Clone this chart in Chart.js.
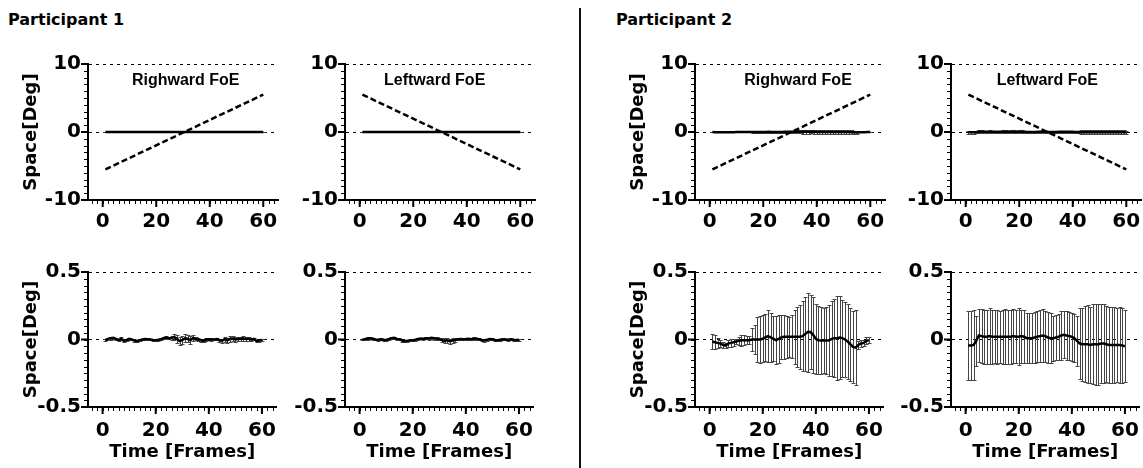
<!DOCTYPE html>
<html>
<head>
<meta charset="utf-8">
<script src="https://cdn.jsdelivr.net/npm/chart.js@4.4.1/dist/chart.umd.min.js"></script>
<style>
  html, body { margin: 0; padding: 0; background: #fff; overflow: hidden; }
  body { width: 1143px; height: 468px; position: relative; }
  .ptitle { position: absolute; font: bold 16px "DejaVu Sans"; line-height: 16px; color: #000; white-space: nowrap; }
  #divider { position: absolute; left: 579px; top: 8px; width: 2px; height: 460px; background: #111; }
  canvas { position: absolute; }
</style>
</head>
<body>
<div class="ptitle" style="left:8px;top:12px">Participant 1</div>
<div class="ptitle" style="left:616px;top:12px">Participant 2</div>
<div id="divider"></div>
<script>
const frames = [1,2,3,4,5,6,7,8,9,10,11,12,13,14,15,16,17,18,19,20,21,22,23,24,25,26,27,28,29,30,
  31,32,33,34,35,36,37,38,39,40,41,42,43,44,45,46,47,48,49,50,51,52,53,54,55,56,57,58,59,60];
const xTicks = [0, 20, 40, 60];
const yTicksDeg = [-10, 0, 10];
const yTicksSmall = [-0.5, 0, 0.5];

// FoE trajectory (dashed), first and last frame
const rampFrames = [1, 60];
const rightwardFoE = [-5.5, 5.5];
const leftwardFoE = [5.5, -5.5];

// participant 1, mean +- sd per frame
const p1RightMean = [-0.005,0.005,0.01,0.012,0.005,-0.005,0.005,-0.01,-0.005,0.005,0,-0.008,-0.012,-0.005,0,0.003,0.002,0,-0.003,-0.005,
  -0.002,0.003,0.01,0.015,0.01,0.012,0.018,0.005,-0.012,-0.005,0.008,0.005,-0.005,0.01,0.005,0,-0.005,-0.01,0,0.002,
  0,0,0.003,-0.005,-0.008,0.002,-0.006,0.005,0.008,0,0.003,0.005,0.008,0.004,0.006,-0.002,0.005,-0.012,-0.008,-0.002];
const p1RightSd = [0.008,0.008,0.01,0.008,0.006,0.008,0.01,0.008,0.006,0.008,0.006,0.01,0.008,0.006,0.006,0.008,0.006,0.006,0.008,0.006,
  0.006,0.008,0.008,0.01,0.008,0.012,0.02,0.03,0.032,0.028,0.03,0.026,0.03,0.02,0.012,0.01,0.01,0.008,0.008,0.006,
  0.008,0.006,0.008,0.01,0.015,0.02,0.018,0.02,0.016,0.018,0.015,0.016,0.018,0.012,0.014,0.01,0.008,0.01,0.008,0.008];
const p1LeftMean = [0,0.002,0.008,0.01,0.006,0,-0.002,0.002,-0.004,-0.003,0.003,0.01,0.012,0.004,0.002,-0.008,-0.012,-0.01,-0.006,-0.005,
  -0.002,0.004,0.008,0.006,0.01,0.008,0.012,0.01,0.006,0.004,-0.004,-0.01,-0.006,-0.012,-0.008,-0.004,0.002,0.004,0.002,0.003,
  0.006,0.002,0.008,0.006,0.002,-0.004,-0.006,-0.002,0.004,0.002,-0.004,-0.006,-0.002,0.002,0,-0.002,0.002,-0.003,-0.004,-0.002];
const p1LeftSd = [0.006,0.006,0.008,0.006,0.006,0.005,0.006,0.006,0.008,0.006,0.006,0.008,0.006,0.006,0.006,0.008,0.01,0.008,0.006,0.006,
  0.006,0.008,0.006,0.008,0.006,0.008,0.01,0.012,0.012,0.01,0.014,0.018,0.02,0.018,0.016,0.012,0.008,0.006,0.006,0.008,
  0.006,0.006,0.008,0.008,0.006,0.008,0.01,0.008,0.006,0.006,0.008,0.006,0.006,0.008,0.006,0.006,0.006,0.008,0.006,0.006];

// participant 2, mean +- sd per frame
const p2RightMean = [-0.015,-0.02,-0.025,-0.03,-0.04,-0.045,-0.03,-0.025,-0.02,-0.015,-0.01,-0.005,-0.005,-0.005,-0.005,0,0,0,0,0.005,
  0.015,0.025,0.015,0.005,-0.005,0.005,0.015,0.02,0.02,0.02,0.02,0.02,0.02,0.02,0.025,0.04,0.055,0.055,0.035,0.005,
  -0.005,-0.008,-0.008,-0.008,-0.005,0.005,0.01,0.01,0.015,0.01,0,-0.015,-0.035,-0.055,-0.06,-0.04,-0.03,-0.025,-0.01,-0.005];
const p2RightSd = [0.055,0.05,0.035,0.025,0.02,0.02,0.025,0.03,0.025,0.02,0.03,0.04,0.035,0.03,0.03,0.085,0.106,0.167,0.176,0.175,
  0.173,0.193,0.18,0.167,0.18,0.176,0.163,0.165,0.155,0.15,0.16,0.2,0.22,0.235,0.257,0.275,0.293,0.275,0.28,0.257,
  0.254,0.248,0.241,0.25,0.262,0.278,0.29,0.31,0.305,0.285,0.278,0.276,0.272,0.266,0.28,0.03,0.025,0.02,0.025,0.02];
const p2LeftMean = [-0.045,-0.045,-0.04,-0.01,0.03,0.025,0.02,0.02,0.025,0.02,0.02,0.02,0.02,0.02,0.02,0.02,0.02,0.025,0.02,0.02,
  0.025,0.02,0.01,0.01,0.01,0.015,0.02,0.025,0.03,0.025,0.015,0.01,0.01,0.015,0.02,0.03,0.035,0.03,0.025,0.02,
  0.01,-0.01,-0.03,-0.035,-0.035,-0.035,-0.04,-0.035,-0.035,-0.035,-0.03,-0.03,-0.035,-0.04,-0.04,-0.04,-0.04,-0.04,-0.045,-0.05];
const p2LeftSd = [0.254,0.255,0.26,0.186,0.194,0.198,0.198,0.198,0.205,0.2,0.195,0.198,0.192,0.202,0.203,0.2,0.202,0.202,0.196,0.21,
  0.197,0.196,0.186,0.186,0.186,0.192,0.188,0.195,0.198,0.189,0.189,0.186,0.167,0.165,0.17,0.18,0.173,0.184,0.179,0.178,
  0.18,0.186,0.262,0.272,0.28,0.287,0.28,0.297,0.3,0.3,0.292,0.292,0.281,0.281,0.281,0.279,0.277,0.283,0.277,0.267];

const tickFont = { family: 'DejaVu Sans', size: 20, weight: 'bold' };
const titleFont = { family: 'DejaVu Sans', size: 18, weight: 'bold' };
const Y_AXIS_W = 74;
const PAD_TOP = 20;
const PAD_RIGHT = 2;

// minor + major tick marks along both axes
const axisMarks = {
  id: 'axisMarks',
  afterDraw(chart, args, opts) {
    const { ctx, chartArea: a, scales: { x, y } } = chart;
    ctx.save();
    ctx.strokeStyle = '#000';
    ctx.lineWidth = 1;
    ctx.beginPath();
    for (let i = 0; i <= opts.yMinorCount; i++) {
      const v = y.min + i * (y.max - y.min) / opts.yMinorCount;
      const py = Math.round(y.getPixelForValue(v)) + 0.5;
      ctx.moveTo(a.left - 4, py);
      ctx.lineTo(a.left, py);
    }
    for (let v = opts.xMinorFrom; v <= x.max; v += opts.xMinorStep) {
      const px = Math.round(x.getPixelForValue(v)) + 0.5;
      ctx.moveTo(px, a.bottom);
      ctx.lineTo(px, a.bottom + 4);
    }
    ctx.stroke();
    ctx.lineWidth = 2;
    ctx.beginPath();
    y.ticks.forEach(t => {
      const py = y.getPixelForValue(t.value);
      ctx.moveTo(a.left - 7, py);
      ctx.lineTo(a.left, py);
    });
    x.ticks.forEach(t => {
      const px = x.getPixelForValue(t.value);
      ctx.moveTo(px, a.bottom);
      ctx.lineTo(px, a.bottom + 7);
    });
    ctx.stroke();
    ctx.restore();
  }
};

// vertical error bars with caps, drawn under the lines
const errorBars = {
  id: 'errorBars',
  beforeDatasetsDraw(chart) {
    const { ctx, scales: { x, y } } = chart;
    ctx.save();
    ctx.strokeStyle = '#444';
    ctx.lineWidth = 1;
    chart.data.datasets.forEach(ds => {
      if (!ds.errors) return;
      ctx.beginPath();
      ds.data.forEach((p, i) => {
        const px = Math.round(x.getPixelForValue(p.x)) + 0.5;
        const hi = Math.round(y.getPixelForValue(p.y + ds.errors[i])) + 0.5;
        const lo = Math.round(y.getPixelForValue(p.y - ds.errors[i])) + 0.5;
        ctx.moveTo(px, hi); ctx.lineTo(px, lo);
        ctx.moveTo(px - 2, hi); ctx.lineTo(px + 2, hi);
        ctx.moveTo(px - 2, lo); ctx.lineTo(px + 2, lo);
      });
      ctx.stroke();
    });
    ctx.restore();
  }
};

const panelLabel = {
  id: 'panelLabel',
  afterDraw(chart, args, opts) {
    if (!opts.text) return;
    const { ctx, chartArea: a, scales: { x } } = chart;
    ctx.save();
    ctx.font = 'bold 16px "Liberation Sans"';
    ctx.fillStyle = '#000';
    ctx.textAlign = 'center';
    ctx.textBaseline = 'middle';
    ctx.fillText(opts.text, x.getPixelForValue(opts.at), a.top + 17);
    ctx.restore();
  }
};

function points(xs, ys) {
  return xs.map((f, i) => ({ x: f, y: ys[i] }));
}

function meanSet(mean, sd) {
  return {
    data: points(frames, mean),
    errors: sd,
    borderColor: '#000',
    borderWidth: 2.5,
    pointRadius: 0,
    tension: 0
  };
}

function rampSet(vals) {
  return {
    data: points(rampFrames, vals),
    borderColor: '#000',
    borderWidth: 2.5,
    borderDash: [6, 3],
    pointRadius: 0,
    tension: 0
  };
}

function makePanel(p) {
  const canvas = document.createElement('canvas');
  const plotH = p.bottom - p.top;
  canvas.width = Y_AXIS_W + 190 + PAD_RIGHT;
  canvas.height = PAD_TOP + plotH + p.xHeight;
  canvas.style.left = (p.axisX - Y_AXIS_W) + 'px';
  canvas.style.top = (p.top - PAD_TOP) + 'px';
  document.body.appendChild(canvas);

  const yMin = p.yTicks[0], yMax = p.yTicks[p.yTicks.length - 1];
  new Chart(canvas, {
    type: 'line',
    data: { datasets: p.datasets },
    options: {
      responsive: false,
      animation: false,
      devicePixelRatio: 1,
      layout: { padding: { top: PAD_TOP, right: PAD_RIGHT, left: 0, bottom: 0 } },
      plugins: {
        legend: { display: false },
        tooltip: { enabled: false },
        panelLabel: { text: p.label, at: p.labelAt },
        axisMarks: { yMinorCount: 20, xMinorFrom: -4, xMinorStep: 2 }
      },
      scales: {
        x: {
          type: 'linear',
          min: -5.5,
          max: 65.5,
          afterBuildTicks: s => { s.ticks = xTicks.map(v => ({ value: v })); },
          afterFit: s => { s.height = p.xHeight; },
          grid: { display: false },
          border: { display: true, color: '#000', width: 2 },
          ticks: { font: tickFont, color: '#000', padding: p.xPad, maxRotation: 0, autoSkip: false, callback: v => String(v) },
          title: { display: p.xTitle, text: 'Time [Frames]', font: titleFont, color: '#000' }
        },
        y: {
          type: 'linear',
          min: yMin,
          max: yMax,
          afterBuildTicks: s => { s.ticks = p.yTicks.map(v => ({ value: v })); },
          afterFit: s => { s.width = Y_AXIS_W; },
          grid: {
            drawTicks: false,
            lineWidth: 1,
            color: c => (c.tick && c.tick.value === yMin) ? 'rgba(0,0,0,0)' : '#000'
          },
          border: { display: true, color: '#000', width: 2, dash: [3, 4] },
          ticks: { font: tickFont, color: '#000', padding: 7, autoSkip: false, callback: v => String(v) },
          title: { display: p.yTitle, text: 'Space[Deg]', font: titleFont, color: '#000', padding: { top: 7, bottom: 4 } }
        }
      }
    },
    plugins: [errorBars, axisMarks, panelLabel]
  });
}

const topRow = { top: 64, bottom: 200, xHeight: 35, xPad: 2, yTicks: yTicksDeg, xTitle: false };
const bottomRow = { top: 272, bottom: 407, xHeight: 60, xPad: 4, yTicks: yTicksSmall, xTitle: true };

makePanel(Object.assign({}, topRow, { axisX: 88, yTitle: true, label: 'Righward FoE', labelAt: 31,
  datasets: [meanSet(p1RightMean, p1RightSd), rampSet(rightwardFoE)] }));
makePanel(Object.assign({}, topRow, { axisX: 345, yTitle: false, label: 'Leftward FoE', labelAt: 28,
  datasets: [meanSet(p1LeftMean, p1LeftSd), rampSet(leftwardFoE)] }));
makePanel(Object.assign({}, topRow, { axisX: 695, yTitle: true, label: 'Righward FoE', labelAt: 33,
  datasets: [meanSet(p2RightMean, p2RightSd), rampSet(rightwardFoE)] }));
makePanel(Object.assign({}, topRow, { axisX: 951, yTitle: false, label: 'Leftward FoE', labelAt: 30.5,
  datasets: [meanSet(p2LeftMean, p2LeftSd), rampSet(leftwardFoE)] }));

makePanel(Object.assign({}, bottomRow, { axisX: 88, yTitle: true, datasets: [meanSet(p1RightMean, p1RightSd)] }));
makePanel(Object.assign({}, bottomRow, { axisX: 345, yTitle: false, datasets: [meanSet(p1LeftMean, p1LeftSd)] }));
makePanel(Object.assign({}, bottomRow, { axisX: 695, yTitle: true, datasets: [meanSet(p2RightMean, p2RightSd)] }));
makePanel(Object.assign({}, bottomRow, { axisX: 951, yTitle: false, datasets: [meanSet(p2LeftMean, p2LeftSd)] }));
</script>
</body>
</html>
